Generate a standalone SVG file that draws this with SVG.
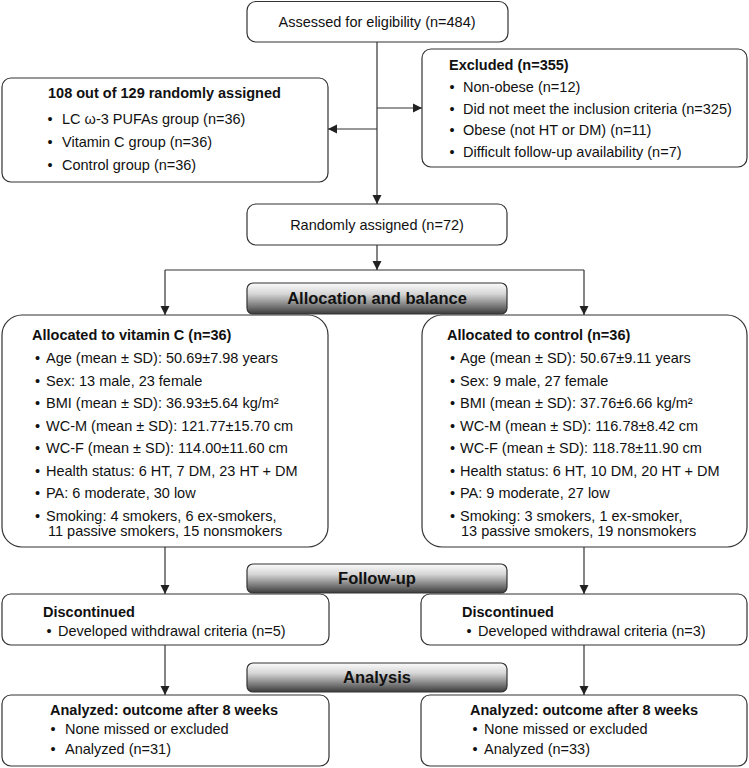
<svg xmlns="http://www.w3.org/2000/svg" width="749" height="768" viewBox="0 0 749 768">
<defs>
<linearGradient id="barg" x1="0" y1="0" x2="0" y2="1">
<stop offset="0" stop-color="#fbfbfb"/>
<stop offset="0.35" stop-color="#d6d6d6"/>
<stop offset="1" stop-color="#3c3c3c"/>
</linearGradient>
<marker id="ah" markerWidth="10" markerHeight="10" refX="9" refY="5" orient="auto" markerUnits="userSpaceOnUse">
<path d="M0,0.5 L9,5 L0,9.5 Z" fill="#222"/>
</marker>
<style>
.box{fill:#fff;stroke:#333;stroke-width:1.2}
.bar{fill:url(#barg);stroke:#333;stroke-width:1.2}
.t{font-family:"Liberation Sans",Arial,sans-serif;font-size:14.5px;fill:#111}
.b{font-family:"Liberation Sans",Arial,sans-serif;font-size:14.5px;font-weight:bold;fill:#111}
.h{font-family:"Liberation Sans",Arial,sans-serif;font-size:16.5px;font-weight:bold;fill:#111;text-anchor:middle}
.c{text-anchor:middle}
.ln{fill:none;stroke:#333;stroke-width:1.2}
.ar{fill:none;stroke:#333;stroke-width:1.2;marker-end:url(#ah)}
</style>
</defs>

<g id="connectors">
<line class="ar" x1="377" y1="42" x2="377" y2="204"/>
<line class="ar" x1="377" y1="129" x2="328" y2="129"/>
<line class="ar" x1="377" y1="108" x2="422" y2="108"/>
<line class="ar" x1="377" y1="245" x2="377" y2="270"/>
<line class="ln" x1="165" y1="270" x2="584" y2="270"/>
<line class="ar" x1="165" y1="270" x2="165" y2="315"/>
<line class="ar" x1="584" y1="270" x2="584" y2="315"/>
<line class="ar" x1="165" y1="547" x2="165" y2="594"/>
<line class="ar" x1="584" y1="547" x2="584" y2="594"/>
<line class="ar" x1="165" y1="645" x2="165" y2="695"/>
<line class="ar" x1="584" y1="645" x2="584" y2="695"/>
</g>

<g id="assessed">
<rect class="box" x="247" y="1.5" width="261" height="40.5" rx="9"/>
<text class="t c" x="377" y="27">Assessed for eligibility (n=484)</text>
</g>

<g id="randomized108">
<rect class="box" x="2" y="78" width="326" height="104" rx="9"/>
<text class="b" x="48" y="98">108 out of 129 randomly assigned</text>
<text class="t"><tspan x="47.5" y="124">•</tspan><tspan x="62">LC ω-3 PUFAs group (n=36)</tspan></text>
<text class="t"><tspan x="47.5" y="147">•</tspan><tspan x="62">Vitamin C group (n=36)</tspan></text>
<text class="t"><tspan x="47.5" y="170">•</tspan><tspan x="62">Control group (n=36)</tspan></text>
</g>

<g id="excluded">
<rect class="box" x="422" y="49" width="325" height="118" rx="9"/>
<text class="b" x="449" y="70">Excluded (n=355)</text>
<text class="t"><tspan x="449.5" y="92">•</tspan><tspan x="463">Non-obese (n=12)</tspan></text>
<text class="t"><tspan x="449.5" y="113.5">•</tspan><tspan x="463">Did not meet the inclusion criteria (n=325)</tspan></text>
<text class="t"><tspan x="449.5" y="135">•</tspan><tspan x="463">Obese (not HT or DM) (n=11)</tspan></text>
<text class="t"><tspan x="449.5" y="156.5">•</tspan><tspan x="463">Difficult follow-up availability (n=7)</tspan></text>
</g>

<g id="randomized72">
<rect class="box" x="247" y="204" width="260" height="41" rx="9"/>
<text class="t c" x="377" y="230">Randomly assigned (n=72)</text>
</g>

<g id="vitc">
<rect class="box" x="2" y="315" width="326" height="232" rx="20"/>
<text class="b" x="32" y="340">Allocated to vitamin C (n=36)</text>
<text class="t"><tspan x="35" y="363">•</tspan><tspan x="46">Age (mean ± SD): 50.69±7.98 years</tspan></text>
<text class="t"><tspan x="35" y="385.5">•</tspan><tspan x="46">Sex: 13 male, 23 female</tspan></text>
<text class="t"><tspan x="35" y="408">•</tspan><tspan x="46">BMI (mean ± SD): 36.93±5.64 kg/m²</tspan></text>
<text class="t"><tspan x="35" y="430.5">•</tspan><tspan x="46">WC-M (mean ± SD): 121.77±15.70 cm</tspan></text>
<text class="t"><tspan x="35" y="453">•</tspan><tspan x="46">WC-F (mean ± SD): 114.00±11.60 cm</tspan></text>
<text class="t"><tspan x="35" y="475.5">•</tspan><tspan x="46">Health status: 6 HT, 7 DM, 23 HT + DM</tspan></text>
<text class="t"><tspan x="35" y="498">•</tspan><tspan x="46">PA: 6 moderate, 30 low</tspan></text>
<text class="t"><tspan x="35" y="520.5">•</tspan><tspan x="46">Smoking: 4 smokers, 6 ex-smokers,</tspan></text>
<text class="t" x="48" y="536">11 passive smokers, 15 nonsmokers</text>
</g>

<g id="control">
<rect class="box" x="422" y="315" width="325" height="232" rx="20"/>
<text class="b" x="447" y="340">Allocated to control (n=36)</text>
<text class="t"><tspan x="450" y="363">•</tspan><tspan x="460">Age (mean ± SD): 50.67±9.11 years</tspan></text>
<text class="t"><tspan x="450" y="385.5">•</tspan><tspan x="460">Sex: 9 male, 27 female</tspan></text>
<text class="t"><tspan x="450" y="408">•</tspan><tspan x="460">BMI (mean ± SD): 37.76±6.66 kg/m²</tspan></text>
<text class="t"><tspan x="450" y="430.5">•</tspan><tspan x="460">WC-M (mean ± SD): 116.78±8.42 cm</tspan></text>
<text class="t"><tspan x="450" y="453">•</tspan><tspan x="460">WC-F (mean ± SD): 118.78±11.90 cm</tspan></text>
<text class="t"><tspan x="450" y="475.5">•</tspan><tspan x="460">Health status: 6 HT, 10 DM, 20 HT + DM</tspan></text>
<text class="t"><tspan x="450" y="498">•</tspan><tspan x="460">PA: 9 moderate, 27 low</tspan></text>
<text class="t"><tspan x="450" y="520.5">•</tspan><tspan x="460">Smoking: 3 smokers, 1 ex-smoker,</tspan></text>
<text class="t" x="461" y="536">13 passive smokers, 19 nonsmokers</text>
</g>

<g id="allocation-bar">
<rect class="bar" x="247" y="283" width="260" height="31" rx="6"/>
<text class="h" x="377" y="304">Allocation and balance</text>
</g>

<g id="disc-left">
<rect class="box" x="2" y="594" width="327" height="51" rx="9"/>
<text class="b" x="43" y="617">Discontinued</text>
<text class="t"><tspan x="46.5" y="636">•</tspan><tspan x="58">Developed withdrawal criteria (n=5)</tspan></text>
</g>

<g id="disc-right">
<rect class="box" x="421" y="594" width="326" height="51" rx="9"/>
<text class="b" x="462" y="617">Discontinued</text>
<text class="t"><tspan x="466.5" y="636">•</tspan><tspan x="478">Developed withdrawal criteria (n=3)</tspan></text>
</g>

<g id="followup-bar">
<rect class="bar" x="247" y="564" width="260" height="29" rx="6"/>
<text class="h" x="377" y="584">Follow-up</text>
</g>

<g id="anal-left">
<rect class="box" x="2" y="695" width="327" height="71" rx="9"/>
<text class="b" x="50" y="715">Analyzed: outcome after 8 weeks</text>
<text class="t"><tspan x="50.5" y="734">•</tspan><tspan x="65">None missed or excluded</tspan></text>
<text class="t"><tspan x="50.5" y="754">•</tspan><tspan x="65">Analyzed (n=31)</tspan></text>
</g>

<g id="anal-right">
<rect class="box" x="421" y="695" width="326" height="71" rx="9"/>
<text class="b" x="470" y="715">Analyzed: outcome after 8 weeks</text>
<text class="t"><tspan x="472.5" y="734">•</tspan><tspan x="484">None missed or excluded</tspan></text>
<text class="t"><tspan x="472.5" y="754">•</tspan><tspan x="484">Analyzed (n=33)</tspan></text>
</g>

<g id="analysis-bar">
<rect class="bar" x="247" y="663" width="260" height="29" rx="6"/>
<text class="h" x="377" y="683">Analysis</text>
</g>
</svg>
